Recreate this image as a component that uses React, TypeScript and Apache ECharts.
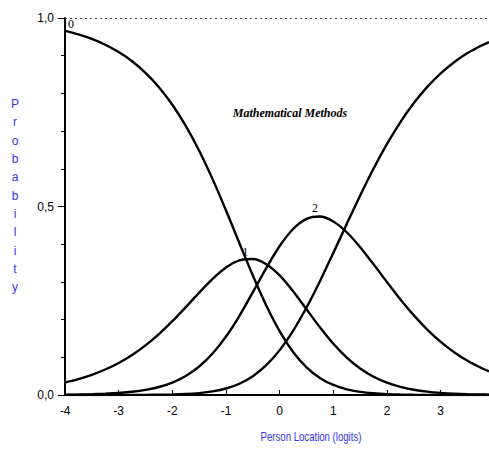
import React, { useEffect, useRef } from "react";
import * as echarts from "echarts";

const locations = [-4, -3.75, -3.5, -3.25, -3, -2.75, -2.5, -2.25, -2, -1.75, -1.5, -1.25, -1, -0.75, -0.5, -0.25, 0, 0.25, 0.5, 0.75, 1, 1.25, 1.5, 1.75, 2, 2.25, 2.5, 2.75, 3, 3.25, 3.5, 3.75, 3.9];
const cat0 = [0.966, 0.9565, 0.9445, 0.929, 0.9096, 0.8852, 0.8545, 0.8165, 0.77, 0.714, 0.648, 0.5726, 0.4896, 0.4027, 0.3168, 0.2373, 0.1689, 0.1142, 0.0735, 0.0452, 0.0266, 0.0151, 0.0083, 0.0045, 0.0023, 0.0012, 0.0006, 0.0003, 0.0001, 0.0001, 0, 0, 0];
const cat1 = [0.0332, 0.0423, 0.0536, 0.0676, 0.085, 0.1062, 0.1317, 0.1616, 0.1957, 0.233, 0.2715, 0.308, 0.3382, 0.3572, 0.3608, 0.347, 0.3171, 0.2752, 0.2274, 0.1795, 0.1359, 0.0993, 0.0702, 0.0483, 0.0325, 0.0214, 0.0139, 0.0089, 0.0056, 0.0035, 0.0022, 0.0014, 0.001];
const cat2 = [0.0008, 0.0012, 0.002, 0.0033, 0.0053, 0.0085, 0.0135, 0.0212, 0.033, 0.0505, 0.0755, 0.1099, 0.155, 0.2102, 0.2727, 0.3367, 0.3951, 0.4403, 0.4672, 0.4735, 0.4604, 0.4317, 0.3921, 0.3466, 0.2992, 0.2533, 0.2111, 0.1735, 0.141, 0.1136, 0.0909, 0.0723, 0.0629];
const cat3 = [0, 0, 0, 0, 0.0001, 0.0002, 0.0003, 0.0007, 0.0013, 0.0026, 0.0051, 0.0095, 0.0172, 0.0299, 0.0498, 0.079, 0.119, 0.1703, 0.232, 0.3019, 0.377, 0.4539, 0.5293, 0.6007, 0.6659, 0.724, 0.7744, 0.8173, 0.8532, 0.8827, 0.9069, 0.9263, 0.9361];
const categoryLabels = ["0", "1", "2", ""];
const labelAnchors: (number[] | null)[] = [[-3.89, 0.984], [-0.64, 0.379], [0.66, 0.496], null];
const yTicks = [0, 0.5, 1];

const sans = "'Liberation Sans', Arial, sans-serif";

export default function App() {
  const ref = useRef<HTMLDivElement>(null);
  useEffect(() => {
    document.body.style.margin = "0";
    const chart = echarts.init(ref.current!, null, { renderer: "svg" });
    const curves = [cat0, cat1, cat2, cat3];
    const series: any[] = curves.map((vals, i) => {
      const s: any = {
        type: "line",
        name: "Category " + i,
        data: vals.map((v, j) => [locations[j], v]),
        smooth: 0.3,
        symbol: "none",
        lineStyle: { color: "#000", width: 2.4 },
        z: 3,
      };
      const anchor = labelAnchors[i];
      if (anchor) {
        s.markPoint = {
          symbol: "circle",
          symbolSize: 1,
          itemStyle: { color: "rgba(0,0,0,0)" },
          label: {
            show: true,
            position: "inside",
            formatter: categoryLabels[i],
            color: "#000",
            fontFamily: "'Liberation Serif', serif",
            fontSize: 12,
          },
          data: [{ coord: anchor }],
        };
      }
      if (i === 0) {
        s.markLine = {
          silent: true,
          symbol: "none",
          label: { show: false },
          lineStyle: { type: [2, 3], color: "#444", width: 1 },
          data: [{ yAxis: 1 }],
        };
      }
      return s;
    });
    chart.setOption({
      animation: false,
      backgroundColor: "#fff",
      grid: { left: 65, right: 0, top: 18, bottom: 55, containLabel: false },
      xAxis: {
        type: "value",
        min: -4,
        max: 3.9,
        interval: 1,
        axisLine: { show: true, onZero: false, lineStyle: { color: "#000", width: 2 } },
        axisTick: { show: true, inside: true, length: 5, lineStyle: { color: "#000", width: 1 } },
        axisLabel: {
          show: true,
          margin: 10,
          color: "#000",
          fontFamily: sans,
          fontSize: 12,
          showMaxLabel: false,
          formatter: (v: number) => (Number.isInteger(v) ? String(v) : ""),
        },
        splitLine: { show: false },
      },
      yAxis: {
        type: "value",
        min: 0,
        max: 1,
        interval: 0.5,
        axisLine: { show: true, onZero: false, lineStyle: { color: "#000", width: 2 } },
        axisTick: { show: true, inside: false, length: 7, lineStyle: { color: "#000", width: 1 } },
        minorTick: { show: true, splitNumber: 5, length: 4, lineStyle: { color: "#000", width: 1 } },
        axisLabel: {
          show: true,
          margin: 11,
          color: "#000",
          fontFamily: sans,
          fontSize: 12,
          formatter: (v: number) => (yTicks.includes(v) ? v.toFixed(1).replace(".", ",") : ""),
        },
        splitLine: { show: false },
      },
      graphic: [
        {
          type: "text",
          x: 290,
          y: 113,
          style: {
            text: "Mathematical Methods",
            fill: "#000",
            font: "italic bold 12px 'Liberation Serif', serif",
            textAlign: "center",
            textVerticalAlign: "middle",
          },
        },
        {
          type: "text",
          x: 15,
          y: 95,
          style: {
            text: "P\nr\no\nb\na\nb\ni\nl\ni\nt\ny",
            fill: "#3333ee",
            font: "12px " + sans,
            lineHeight: 18.3,
            textAlign: "center",
          },
        },
        {
          type: "text",
          x: 311,
          y: 437,
          scaleX: 0.8,
          style: {
            text: "Person Location (logits)",
            fill: "#3333ee",
            font: "12px " + sans,
            textAlign: "center",
            textVerticalAlign: "middle",
          },
        },
      ],
      series,
    });
    return () => chart.dispose();
  }, []);
  return <div ref={ref} style={{ width: 489, height: 450 }} />;
}
